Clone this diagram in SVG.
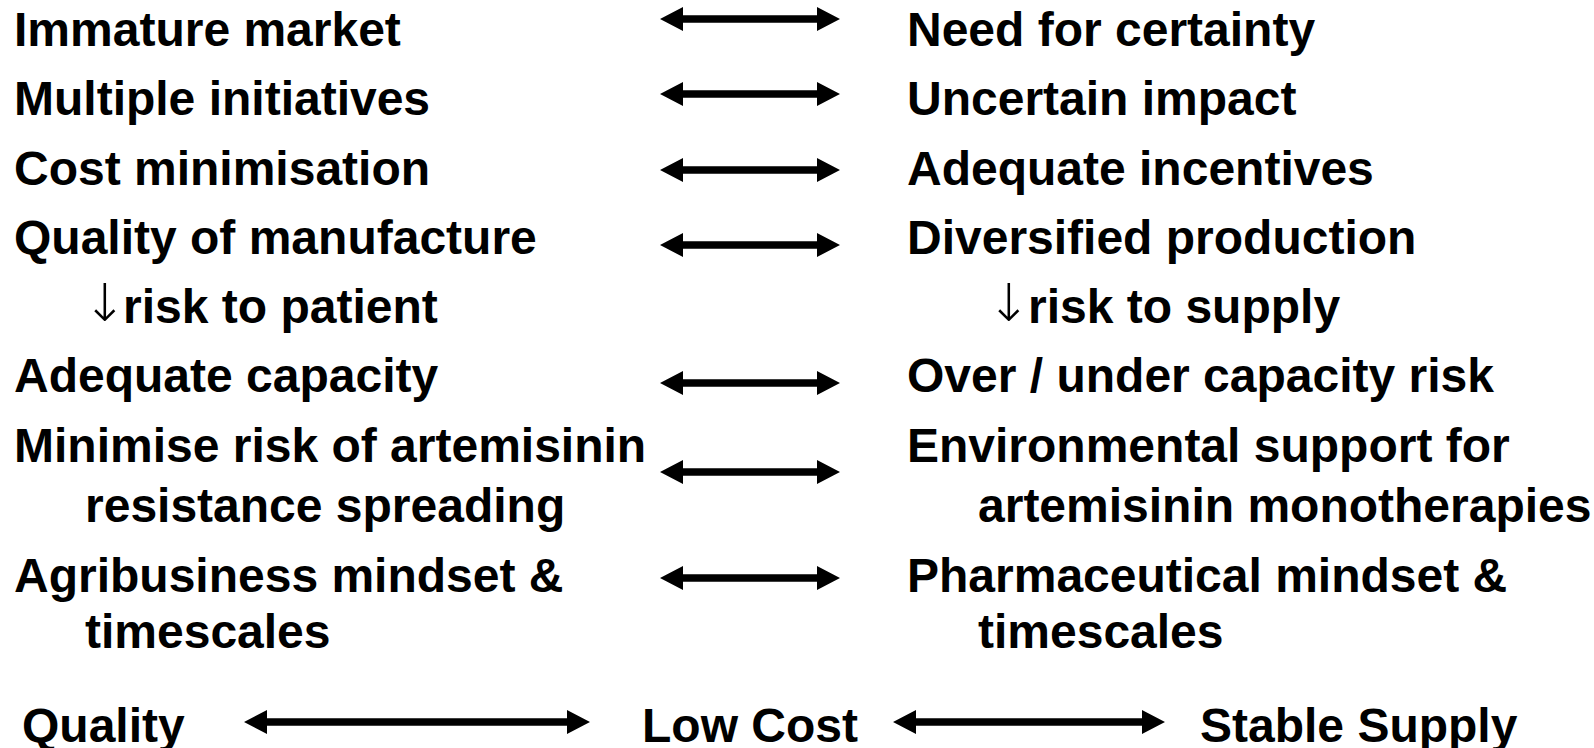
<svg xmlns="http://www.w3.org/2000/svg" width="1594" height="748" viewBox="0 0 1594 748">
<style>
text{font-family:"Liberation Sans",Arial,sans-serif;font-weight:bold;font-size:48px;fill:#000}
text.ar{font-family:"DejaVu Sans",sans-serif;font-weight:200;font-size:52px}
.c{fill:#000}
</style>
<defs>
<path id="da" d="M0,0 L23,-12 L23,-3.8 L157,-3.8 L157,-12 L180,0 L157,12 L157,3.8 L23,3.8 L23,12 Z"/>
</defs>
<rect width="1594" height="748" fill="#fff"/>
<g id="left">
<g id="l1"><text x="14" y="46">Immature market</text></g>
<g id="l2"><text x="14" y="115">Multiple initiatives</text></g>
<g id="l3"><text x="14" y="185">Cost minimisation</text></g>
<g id="l4"><text x="14" y="254">Quality of manufacture</text><text class="ar" x="83" y="321">↓</text><text x="123" y="323">risk to patient</text></g>
<g id="l5"><text x="14" y="392">Adequate capacity</text></g>
<g id="l6"><text x="14" y="462">Minimise risk of artemisinin</text><text x="85" y="522">resistance spreading</text></g>
<g id="l7"><text x="14" y="592">Agribusiness mindset &amp;</text><text x="85" y="648">timescales</text></g>
</g>
<g id="right">
<g id="r1"><text x="907" y="46">Need for certainty</text></g>
<g id="r2"><text x="907" y="115">Uncertain impact</text></g>
<g id="r3"><text x="907" y="185">Adequate incentives</text></g>
<g id="r4"><text x="907" y="254">Diversified production</text><text class="ar" x="987" y="321">↓</text><text x="1028" y="323">risk to supply</text></g>
<g id="r5"><text x="907" y="392">Over / under capacity risk</text></g>
<g id="r6"><text x="907" y="462">Environmental support for</text><text x="978" y="522">artemisinin monotherapies</text></g>
<g id="r7"><text x="907" y="592">Pharmaceutical mindset &amp;</text><text x="978" y="648">timescales</text></g>
</g>
<g id="bottom">
<g id="b1"><text x="22" y="742">Quality</text></g>
<g id="b2"><text x="642" y="742">Low Cost</text></g>
<g id="b3"><text x="1200" y="742">Stable Supply</text></g>
</g>
<g id="connectors" class="c">
<use href="#da" transform="translate(660,19)"/>
<use href="#da" transform="translate(660,94)"/>
<use href="#da" transform="translate(660,170)"/>
<use href="#da" transform="translate(660,245)"/>
<use href="#da" transform="translate(660,383)"/>
<use href="#da" transform="translate(660,472)"/>
<use href="#da" transform="translate(660,578)"/>
<path d="M244,722 L267,710 L267,718.2 L567,718.2 L567,710 L590,722 L567,734 L567,725.8 L267,725.8 L267,734 Z"/>
<path d="M893,722 L916,710 L916,718.2 L1142,718.2 L1142,710 L1165,722 L1142,734 L1142,725.8 L916,725.8 L916,734 Z"/>
</g>
</svg>
